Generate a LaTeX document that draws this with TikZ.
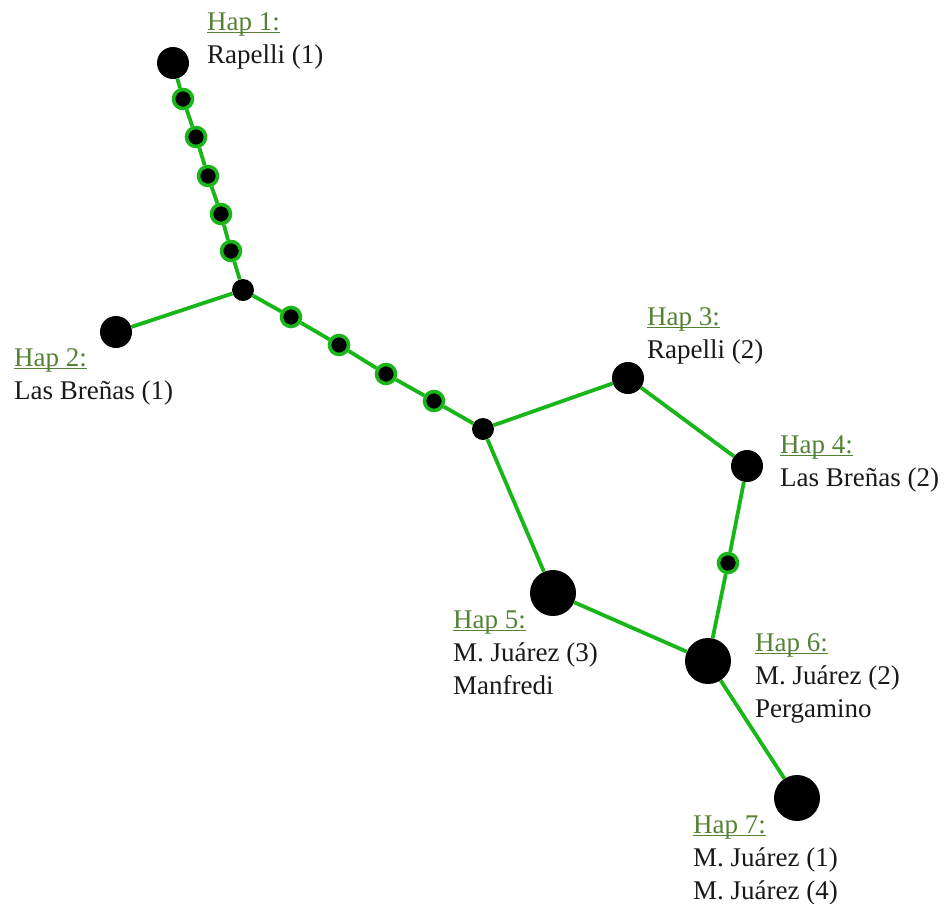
\documentclass[tikz,border=0pt]{standalone}
\usepackage{fontspec}
\setmainfont{Liberation Serif}
\definecolor{edgegreen}{RGB}{24,182,24}
\definecolor{hapgreen}{RGB}{84,130,53}
% underline that runs just below the baseline, crossing descenders
\newcommand\hapul[1]{\setbox0\hbox{#1}\rlap{\rule[-2.8pt]{\wd0}{1.2pt}}\box0}
\newcommand\haplab[1]{\textcolor{hapgreen}{\hapul{#1}}}
\tikzset{
  link/.style={draw=edgegreen, line width=3.8pt},
  hapsmall/.style={circle, fill=black, inner sep=0pt, minimum size=32pt},
  hapbig/.style={circle, fill=black, inner sep=0pt, minimum size=46pt},
  junction/.style={circle, fill=black, inner sep=0pt, minimum size=22pt},
  mutation/.style={circle, fill=black, draw=edgegreen, line width=3.6pt, inner sep=0pt, minimum size=19pt},
  % labels are placed by the baseline of their last line
  haptext/.style={anchor=base west, align=left, inner sep=0pt, font=\fontsize{27}{33}\selectfont, text=black!90}
}
\begin{document}
\begin{tikzpicture}[x=1pt, y=-1pt]
\useasboundingbox (0,0) rectangle (945,903);

% haplotypes
\node[hapsmall] (h1) at (173,63) {};
\node[hapsmall] (h2) at (116,332) {};
\node[hapsmall] (h3) at (628,378) {};
\node[hapsmall] (h4) at (747,466) {};
\node[hapbig]   (h5) at (553,593) {};
\node[hapbig]   (h6) at (708,661) {};
\node[hapbig]   (h7) at (797,798) {};

% median vectors
\node[junction] (j1) at (243,290) {};
\node[junction] (j2) at (483,429) {};

% mutational steps
\node[mutation] (m1) at (183,99) {};
\node[mutation] (m2) at (196,137) {};
\node[mutation] (m3) at (208,176) {};
\node[mutation] (m4) at (221,214) {};
\node[mutation] (m5) at (231,251) {};
\node[mutation] (m6) at (291,317) {};
\node[mutation] (m7) at (339,345) {};
\node[mutation] (m8) at (386,374) {};
\node[mutation] (m9) at (434,401) {};
\node[mutation] (m10) at (728,563) {};

% links
\draw[link] (h1) -- (m1) -- (m2) -- (m3) -- (m4) -- (m5) -- (j1);
\draw[link] (h2) -- (j1);
\draw[link] (j1) -- (m6) -- (m7) -- (m8) -- (m9) -- (j2);
\draw[link] (j2) -- (h3);
\draw[link] (h3) -- (h4);
\draw[link] (h4) -- (m10) -- (h6);
\draw[link] (j2) -- (h5);
\draw[link] (h5) -- (h6);
\draw[link] (h6) -- (h7);

% labels
\node[haptext] (l1) at (207,63)  {\haplab{Hap 1:}\\Rapelli (1)};
\node[haptext] (l2) at (14,399)  {\haplab{Hap 2:}\\Las Breñas (1)};
\node[haptext] (l3) at (647,358) {\haplab{Hap 3:}\\Rapelli (2)};
\node[haptext] (l4) at (780,486) {\haplab{Hap 4:}\\Las Breñas (2)};
\node[haptext] (l5) at (453,694) {\haplab{Hap 5:}\\M. Juárez (3)\\Manfredi};
\node[haptext] (l6) at (755,717) {\haplab{Hap 6:}\\M. Juárez (2)\\Pergamino};
\node[haptext] (l7) at (693,899) {\haplab{Hap 7:}\\M. Juárez (1)\\M. Juárez (4)};
\end{tikzpicture}
\end{document}
